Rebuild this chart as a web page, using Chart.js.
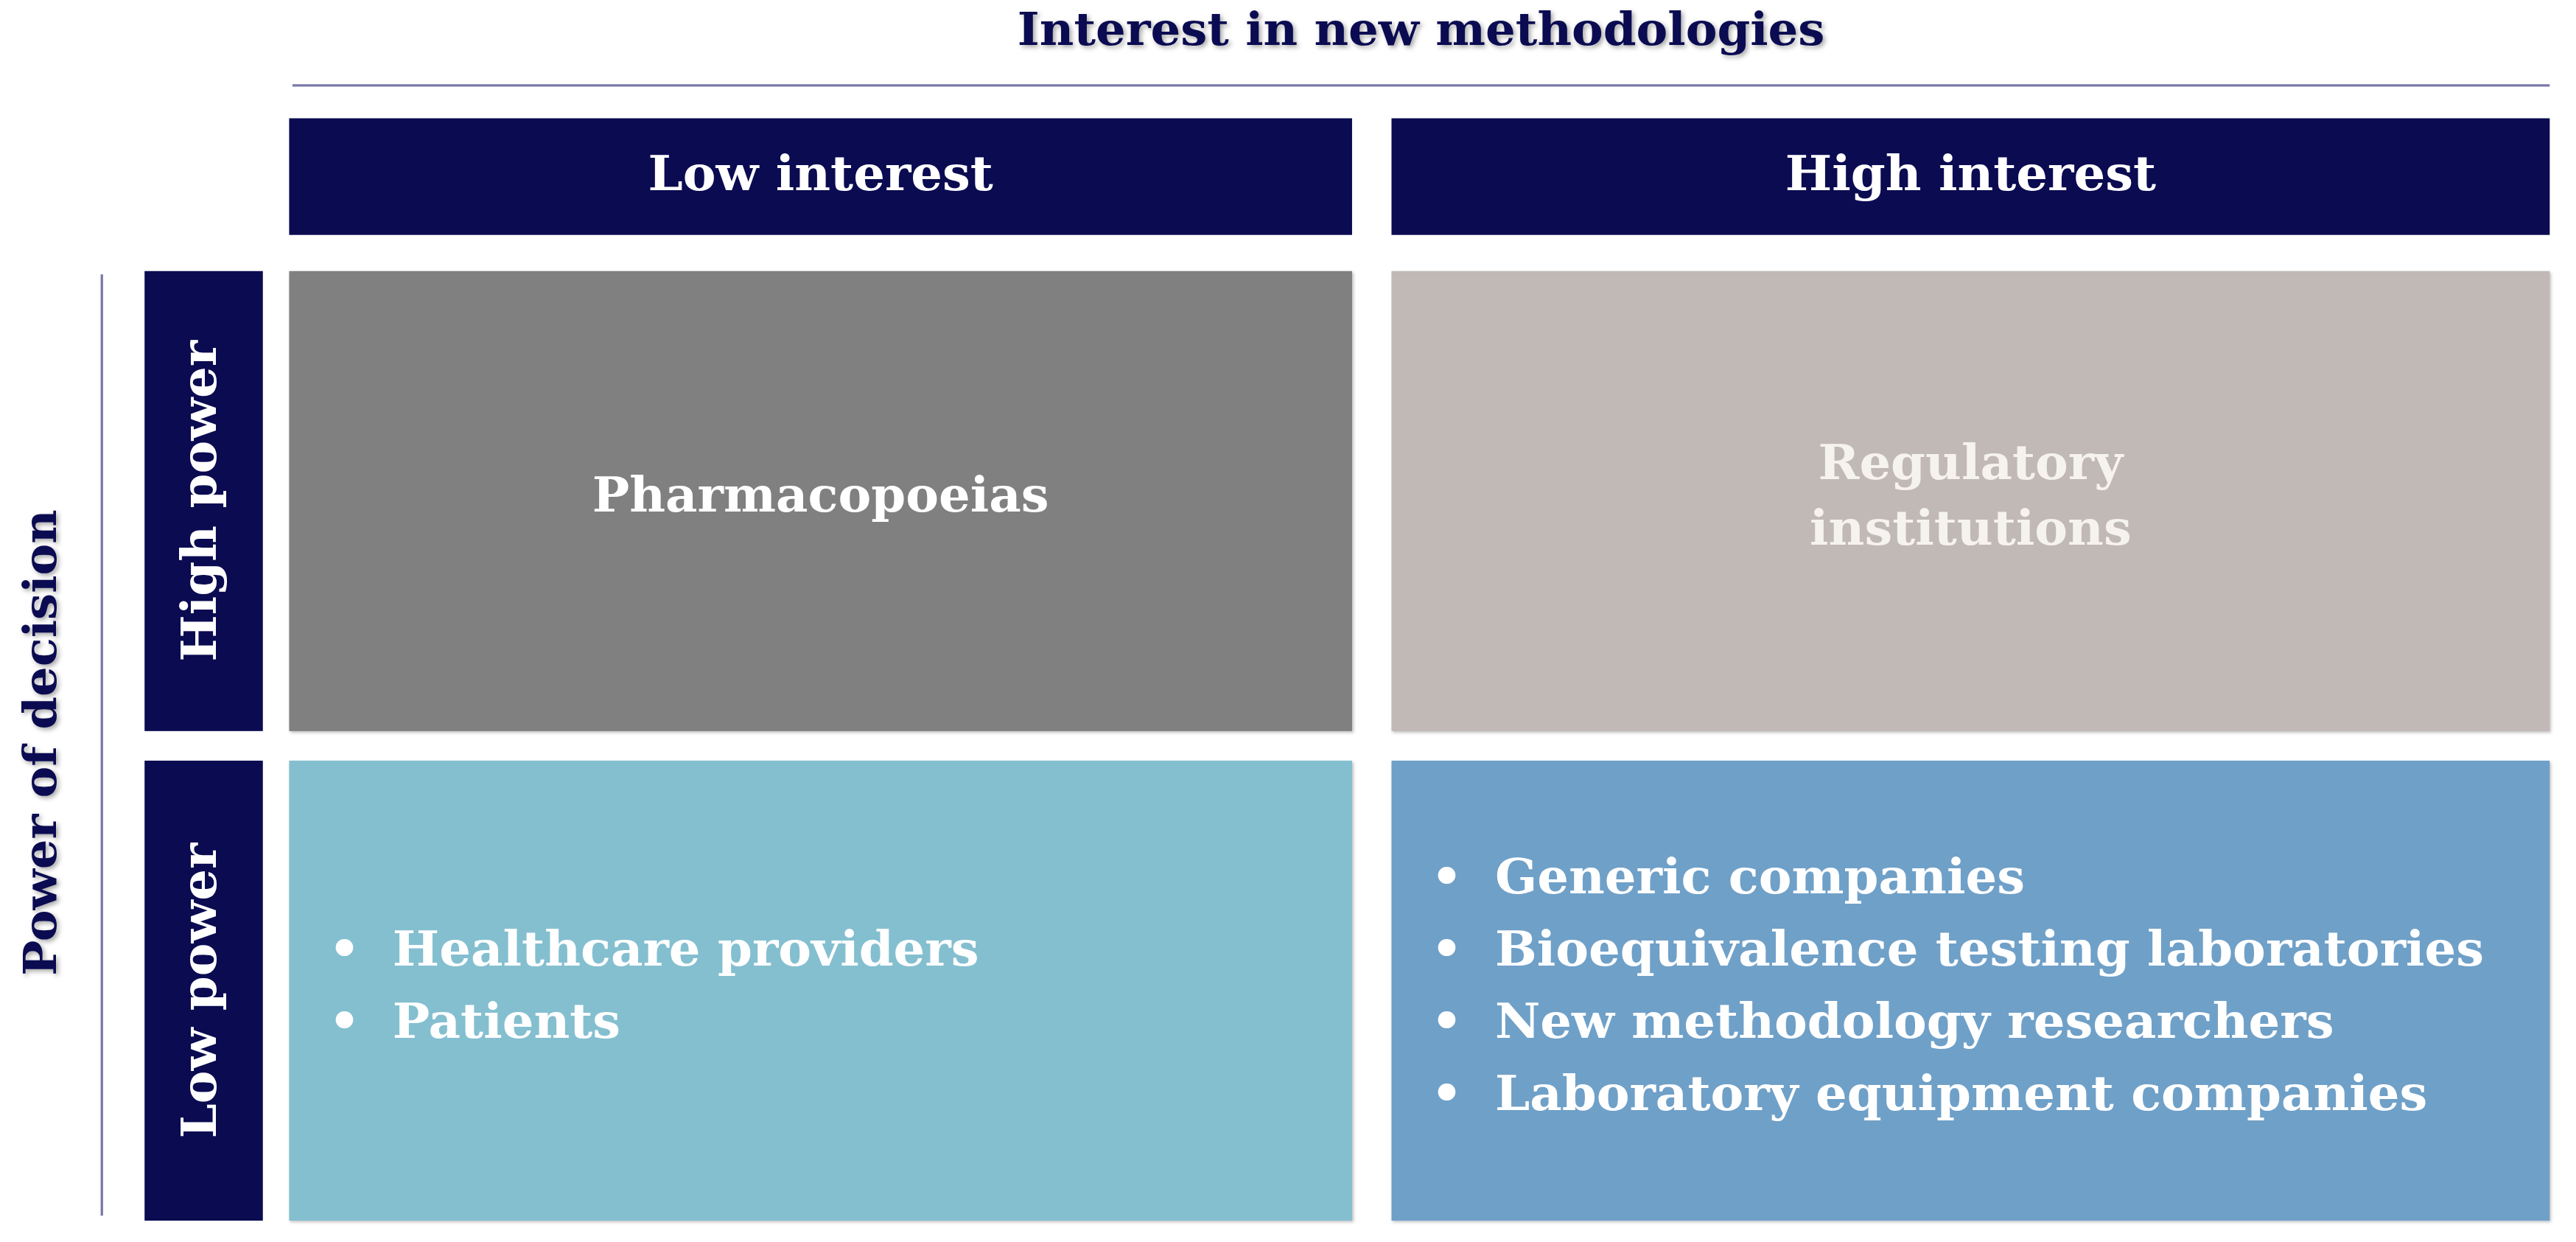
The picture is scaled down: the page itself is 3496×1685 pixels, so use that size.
<!DOCTYPE html>
<html>
<head>
<meta charset="utf-8">
<script src="https://cdn.jsdelivr.net/npm/chart.js@4"></script>
<style>
  html, body { margin: 0; padding: 0; background: #fff; }
  #wrap { width: 3496px; height: 1685px; position: relative; }
</style>
</head>
<body>
<div id="wrap"><canvas id="c"></canvas></div>
<script>
// grid expressed in reference units (0..1568 wide, 0..756 tall)
const colLabels = ['Low interest', 'High interest'];
const rowLabels = ['High power', 'Low power'];
const colBounds = [[176, 823], [847, 1552]];
const rowBounds = [[165, 445], [463, 743]];
const cellColors = [['#808080', '#c0b9b6'], ['#84bfd0', '#6fa0c8']];
const cellTexts = [
  [['Pharmacopoeias'], ['Regulatory', 'institutions']],
  [['Healthcare providers', 'Patients'],
   ['Generic companies', 'Bioequivalence testing laboratories', 'New methodology researchers', 'Laboratory equipment companies']]
];
const cellBullets = [[false, false], [true, true]];
const xTitle = 'Interest in new methodologies';
const yTitle = 'Power of decision';

const navy = '#0b0b52';
const serif = '"DejaVu Serif", "Liberation Serif", serif';

const matrixPlugin = {
  id: 'matrix',
  afterDraw(chart) {
    const { ctx, scales: { x, y } } = chart;
    const k = x.getPixelForValue(1) - x.getPixelForValue(0);
    const rect = (x0, y0, x1, y1, c) => {
      ctx.fillStyle = c;
      ctx.fillRect(x.getPixelForValue(x0), y.getPixelForValue(y0),
        x.getPixelForValue(x1) - x.getPixelForValue(x0), y.getPixelForValue(y1) - y.getPixelForValue(y0));
    };
    ctx.save();
    ctx.textBaseline = 'middle';

    // fit the font width to the reference (longest line spans ~602 units)
    ctx.font = `bold ${Math.round(29 * k)}px ${serif}`;
    const hs = (602 * k) / ctx.measureText('Bioequivalence testing laboratories').width;
    // draw text at px,py with horizontal squeeze, optional rotation
    const text = (t, px, py, align, rot) => {
      ctx.save();
      ctx.translate(px, py);
      if (rot) ctx.rotate(rot);
      ctx.scale(hs, 1);
      ctx.textAlign = align;
      ctx.fillText(t, 0, 0);
      ctx.restore();
    };

    // axis titles with soft shadow
    ctx.shadowColor = 'rgba(0,0,0,0.35)';
    ctx.shadowBlur = 6; ctx.shadowOffsetX = 3; ctx.shadowOffsetY = 3;
    ctx.fillStyle = navy;
    ctx.font = `bold ${Math.round(28 * k)}px ${serif}`;
    text(xTitle, x.getPixelForValue(865), y.getPixelForValue(20), 'center');
    text(yTitle, x.getPixelForValue(27), y.getPixelForValue(452), 'center', -Math.PI / 2);
    ctx.shadowColor = 'transparent';

    // thin guide lines
    ctx.strokeStyle = '#7a7aa8';
    ctx.lineWidth = 1.5 * k;
    ctx.beginPath();
    ctx.moveTo(x.getPixelForValue(178), y.getPixelForValue(52));
    ctx.lineTo(x.getPixelForValue(1552), y.getPixelForValue(52));
    ctx.moveTo(x.getPixelForValue(62), y.getPixelForValue(167));
    ctx.lineTo(x.getPixelForValue(62), y.getPixelForValue(740));
    ctx.stroke();

    // header boxes
    ctx.font = `bold ${Math.round(29 * k)}px ${serif}`;
    colLabels.forEach((lab, i) => {
      const [a, b] = colBounds[i];
      rect(a, 72, b, 143, navy);
      ctx.fillStyle = '#fff';
      text(lab, x.getPixelForValue((a + b) / 2), y.getPixelForValue(108), 'center');
    });
    rowLabels.forEach((lab, j) => {
      const [a, b] = rowBounds[j];
      rect(88, a, 160, b, navy);
      ctx.fillStyle = '#fff';
      text(lab, x.getPixelForValue(124), y.getPixelForValue((a + b) / 2), 'center', -Math.PI / 2);
    });

    // cells
    rowBounds.forEach(([ya, yb], j) => {
      colBounds.forEach(([xa, xb], i) => {
        ctx.shadowColor = 'rgba(0,0,0,0.25)';
        ctx.shadowBlur = 4; ctx.shadowOffsetX = 2; ctx.shadowOffsetY = 2;
        rect(xa, ya, xb, yb, cellColors[j][i]);
        ctx.shadowColor = 'transparent';
        const lines = cellTexts[j][i];
        const step = cellBullets[j][i] ? 44 : 40;
        const cy = (ya + yb) / 2 - 1;
        ctx.fillStyle = i === 1 && j === 0 ? '#f6f2f0' : '#fff';
        lines.forEach((t, n) => {
          const ly = y.getPixelForValue(cy + (n - (lines.length - 1) / 2) * step);
          if (cellBullets[j][i]) {
            text('\u2022', x.getPixelForValue(xa + 24), ly, 'left');
            text(t, x.getPixelForValue(xa + 63), ly, 'left');
          } else {
            text(t, x.getPixelForValue((xa + xb) / 2), ly, 'center');
          }
        });
      });
    });
    ctx.restore();
  }
};

new Chart(document.getElementById('c'), {
  type: 'scatter',
  data: { datasets: [{ data: [] }] },
  options: {
    responsive: true,
    maintainAspectRatio: false,
    animation: false,
    layout: { padding: 0 },
    plugins: { legend: { display: false }, tooltip: { enabled: false } },
    scales: {
      x: { type: 'linear', min: 0, max: 1568, display: false },
      y: { type: 'linear', min: 0, max: 756, reverse: true, display: false }
    }
  },
  plugins: [matrixPlugin]
});
</script>
</body>
</html>
